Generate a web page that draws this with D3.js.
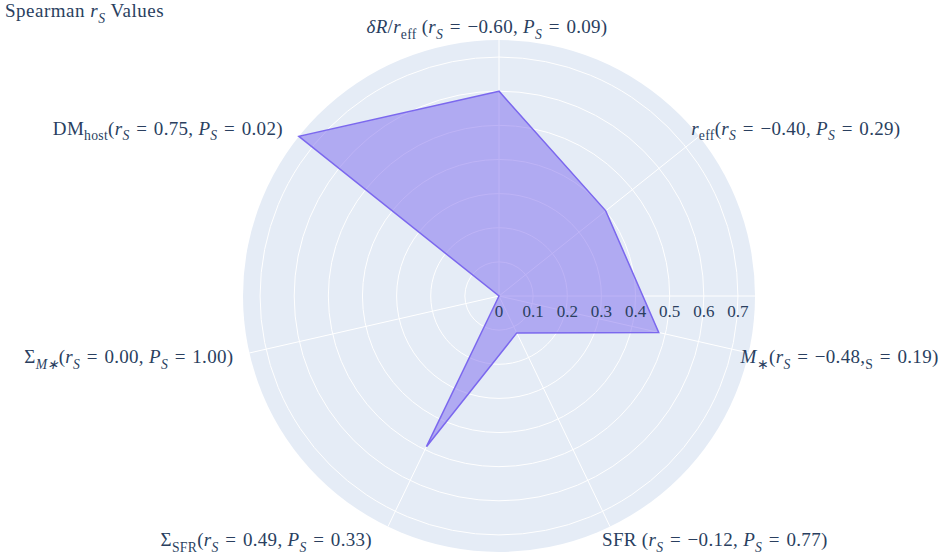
<!DOCTYPE html>
<meta charset="utf-8">
<script src="https://d3js.org/d3.v7.min.js"></script>
<style>
  * { margin: 0; padding: 0; }
  body { background: #fff; }
  .lbl, .title, .rtick {
    font-family: "Liberation Serif", "Times New Roman", serif;
    fill: #2a3f5f;
  }
  .lbl { letter-spacing: 0.3px; }
  .title { letter-spacing: 0.5px; }
</style>
<body>
<div id="chart"></div>
<script>
// categories in plotting order (counterclockwise, first one at the top)
var categories = ["dR_reff", "DM_host", "Sigma_Mstar", "Sigma_SFR", "SFR", "Mstar", "reff"];
var rsValues = [-0.60, 0.75, 0.00, 0.49, -0.12, -0.48, -0.40];
var psValues = [0.09, 0.02, 1.00, 0.33, 0.77, 0.19, 0.29];
// label name pieces: [text, style]  (i = italic, s = subscript, si = italic subscript)
var nameParts = [
  [["δR", "i"], ["/", ""], ["r", "i"], ["eff", "s"]],
  [["DM", ""], ["host", "s"]],
  [["Σ", ""], ["M∗", "si"]],
  [["Σ", ""], ["SFR", "s"]],
  [["SFR", ""]],
  [["M", "i"], ["∗", "s"]],
  [["r", "i"], ["eff", "s"]]
];
var nameSep = [" ", "", "", "", " ", "", ""];
var pSymbols = ["P", "P", "P", "P", "P", "", "P"];
var radialTicks = [0, 0.1, 0.2, 0.3, 0.4, 0.5, 0.6, 0.7];
var radialMax = 0.75;

var width = 940, height = 557;
var margin = {top: 40, bottom: 5};
var R = (height - margin.top - margin.bottom) / 2;
var cx = 499, cy = margin.top + R;
var rotation = Math.PI / 2;

var svg = d3.select("#chart").append("svg")
  .attr("width", width).attr("height", height);

var r = d3.scaleLinear().domain([0, radialMax]).range([0, R]);
var ang = d3.scaleBand().domain(categories).range([0, 2 * Math.PI]).paddingInner(0).paddingOuter(0);
function theta(c) { return rotation + ang(c); }
function px(c, rad) { return cx + rad * Math.cos(theta(c)); }
function py(c, rad) { return cy - rad * Math.sin(theta(c)); }

var g = svg.append("g");

// background disc
g.append("circle").attr("cx", cx).attr("cy", cy).attr("r", R).attr("fill", "#e5ecf6");

// grid circles
g.selectAll(".gridc").data(radialTicks.filter(function(d) { return d > 0; }))
  .enter().append("circle")
  .attr("cx", cx).attr("cy", cy)
  .attr("r", function(d) { return r(d); })
  .attr("fill", "none").attr("stroke", "#fff").attr("stroke-width", 1);

// angular grid lines
g.selectAll(".spoke").data(categories).enter().append("line")
  .attr("x1", cx).attr("y1", cy)
  .attr("x2", function(d) { return px(d, R); })
  .attr("y2", function(d) { return py(d, R); })
  .attr("stroke", "#fff").attr("stroke-width", 1);

// radial axis line at 0 deg
g.append("line").attr("x1", cx).attr("y1", cy).attr("x2", cx + R).attr("y2", cy)
  .attr("stroke", "#fff").attr("stroke-width", 1);

// data polygon
var pts = categories.map(function(c, i) { return [theta(c), r(Math.abs(rsValues[i]))]; });
var radar = d3.lineRadial().angle(function(d) { return Math.PI / 2 - d[0]; }).radius(function(d) { return d[1]; })
  .curve(d3.curveLinearClosed);
g.append("path")
  .attr("transform", "translate(" + cx + "," + cy + ")")
  .attr("d", radar(pts))
  .attr("fill", "mediumslateblue").attr("fill-opacity", 0.5)
  .attr("stroke", "mediumslateblue").attr("stroke-width", 1.5);

// radial tick labels
g.selectAll(".rtick").data(radialTicks).enter().append("text")
  .attr("class", "rtick")
  .attr("x", function(d) { return cx + r(d); })
  .attr("y", cy + 21)
  .attr("text-anchor", "middle")
  .style("font-size", "17px")
  .text(function(d) { return d === 0 ? "0" : d3.format(".1f")(d); });

// rich text helper
function rich(sel, parts, fs) {
  var shift = 0;
  parts.forEach(function(p) {
    var style = p[1];
    var sub = style.indexOf("s") >= 0;
    var target = sub ? fs * 0.3 : 0;
    var t = sel.append("tspan").text(p[0]);
    if (target !== shift) { t.attr("dy", (target - shift)); shift = target; }
    if (style.indexOf("i") >= 0) t.style("font-style", "italic");
    if (sub) t.style("font-size", (fs * 0.72) + "px");
  });
}
function fmt(v) { return (v < 0 ? "−" : "") + Math.abs(v).toFixed(2); }
var EQ = "\u2004=\u2004";

// angular labels
var lblSize = 19;
categories.forEach(function(c, i) {
  var a = theta(c), cs = Math.cos(a), sn = Math.sin(a);
  var anchor = Math.abs(cs) < 0.1 ? "middle" : (cs > 0 ? "start" : "end");
  var x = cx + R * cs + (anchor === "start" ? 4 : anchor === "end" ? -4 : 0) - 12;
  var y = cy - (R + 14) * sn + 7;
  var parts = nameParts[i].slice();
  parts.push([nameSep[i] + "(", ""], ["r", "i"], ["S", "si"], [EQ + fmt(rsValues[i]) + ",", ""]);
  if (pSymbols[i]) parts.push([" ", ""], [pSymbols[i], "i"]);
  parts.push(["S", pSymbols[i] ? "si" : "s"], [EQ + psValues[i].toFixed(2) + ")", ""]);
  var t = svg.append("text").attr("class", "lbl")
    .attr("x", x).attr("y", y).attr("text-anchor", anchor)
    .style("font-size", lblSize + "px");
  rich(t, parts, lblSize);
});

// title
var title = svg.append("text").attr("class", "title")
  .attr("x", 5).attr("y", 17).style("font-size", "19px");
rich(title, [["Spearman ", ""], ["r", "i"], ["S", "si"], [" Values", ""]], 19);
</script>
</body>
